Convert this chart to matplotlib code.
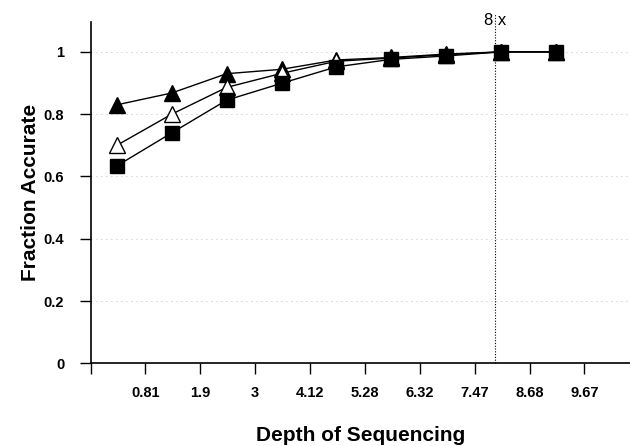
import matplotlib
matplotlib.use("Agg")
import matplotlib.pyplot as plt
import numpy as np

plt.rcParams['font.family'] = ['Liberation Sans', 'DejaVu Sans']

# Data
depth_labels = ['0.81', '1.9', '3', '4.12', '5.28', '6.32', '7.47', '8.68', '9.67']
filled_tri = [0.830, 0.868, 0.930, 0.944, 0.974, 0.982, 0.993, 1.0, 1.0]
open_tri = [0.700, 0.800, 0.886, 0.931, 0.970, 0.980, 0.991, 1.0, 1.0]
squares = [0.634, 0.740, 0.845, 0.899, 0.952, 0.976, 0.987, 1.0, 1.0]
marker_line_x = 7.37  # "8 x" reference line
yticks = [0, 0.2, 0.4, 0.6, 0.8, 1.0]
ytick_labels = ['0', '0.2', '0.4', '0.6', '0.8', '1']

x = np.arange(len(depth_labels)) + 0.48

fig = plt.figure(figsize=(6.3, 4.46), dpi=100)
ax = fig.add_axes([0.1437, 0.1854, 0.8563, 0.7653])

# sparse, faint dotted grid
for yv in yticks[1:]:
    ax.axhline(yv, color='0.65', lw=0.6, ls=(0, (1, 5)), zorder=0)

ax.plot(x, filled_tri, '-', color='black', lw=1.0, marker='^', ms=11,
        mfc='black', mec='black', zorder=3)
ax.plot(x, open_tri, '-', color='black', lw=1.0, marker='^', ms=11,
        mfc='white', mec='black', mew=1.0, zorder=4)
ax.plot(x, squares, '-', color='black', lw=1.0, marker='s', ms=9.5,
        mfc='black', mec='black', zorder=5)

ax.plot([marker_line_x, marker_line_x], [0, 1.125], color='black', lw=0.8,
        ls=(0, (1, 1.5)), clip_on=False, zorder=2)
ax.text(marker_line_x, 1.102, '8 x', ha='center', va='center', fontsize=12)

ax.set_xlim(0, 9.83)
ax.set_ylim(0, 1.096)
ax.set_xticks(np.arange(0, len(depth_labels) + 1))
ax.set_xticklabels([''] + depth_labels, fontsize=10.5, fontweight='bold')
ax.set_yticks(yticks)
ax.set_yticklabels(ytick_labels, fontsize=10.5, fontweight='bold')
ax.tick_params(axis='y', length=8, width=1, pad=11)
ax.tick_params(axis='x', length=8, width=1, pad=8)

ax.spines['top'].set_visible(False)
ax.spines['right'].set_visible(False)
ax.spines['left'].set_linewidth(1.2)
ax.spines['bottom'].set_linewidth(1.2)

ax.set_ylabel('Fraction Accurate', fontsize=15, fontweight='bold')
ax.yaxis.set_label_coords(-0.094, 0.5)
ax.set_xlabel('Depth of Sequencing', fontsize=15, fontweight='bold')
ax.xaxis.set_label_coords(0.5, -0.185)

fig.savefig('out.png', dpi=100)
